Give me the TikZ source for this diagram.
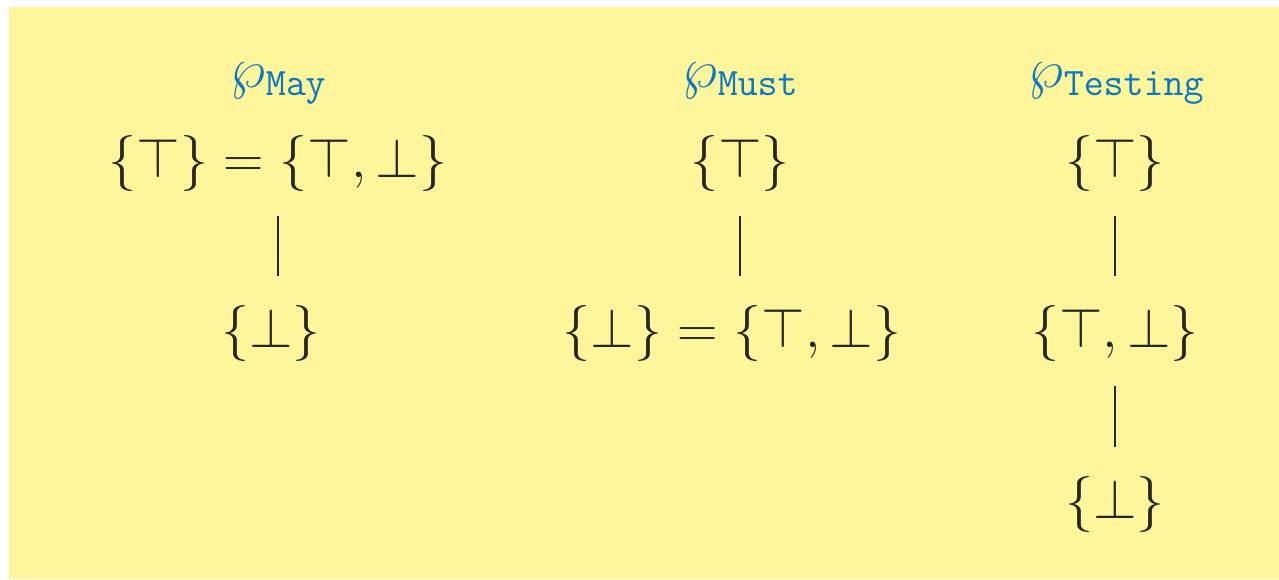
\documentclass[tikz,border=0pt]{standalone}
\usepackage{tikz}
\usetikzlibrary{positioning,calc}
\usepackage{xcolor}
\definecolor{paper}{HTML}{FFF59B}
\definecolor{ink}{HTML}{262626}
\definecolor{headblue}{HTML}{0A78C2}
\tikzset{
  every node/.style={text=ink,inner sep=0pt,anchor=base},
  head/.style={text=headblue,font=\fontsize{20}{24}\selectfont},
  elem/.style={font=\fontsize{20}{24}\selectfont},
  order/.style={draw=ink,line width=0.55pt,shorten <=9pt,shorten >=10.5pt},
}

\begin{document}
\begin{tikzpicture}[x=0.37037pt,y=-0.37037pt]
\useasboundingbox (0,0) rectangle (1279,579);
\fill[paper] (9,7) rectangle (1279,579);

% May
\node[head] (mayHead) at (279,87) {$\wp_{\mathtt{May}}$};
\node[elem] (mayTop) at (278,177) {$\{\top\}=\{\top,\bot\}$};
\node[elem] (mayBot) at (271,347) {$\{\bot\}$};
\draw[order] (mayTop.south) -- (mayTop.south |- mayBot.north);

% Must
\node[head] (mustHead) at (741,87) {$\wp_{\mathtt{Must}}$};
\node[elem] (mustTop) at (740,177) {$\{\top\}$};
\node[elem] (mustBot) at (732,347) {$\{\bot\}=\{\top,\bot\}$};
\draw[order] (mustTop.south) -- (mustTop.south |- mustBot.north);

% Testing
\node[head] (testHead) at (1117,87) {$\wp_{\mathtt{Testing}}$};
\node[elem] (testTop) at (1115,177) {$\{\top\}$};
\node[elem] (testMid) at (1115,347) {$\{\top,\bot\}$};
\node[elem] (testBot) at (1115,518) {$\{\bot\}$};
\draw[order] (testTop) -- (testMid);
\draw[order] (testMid) -- (testBot);

\end{tikzpicture}
\end{document}
